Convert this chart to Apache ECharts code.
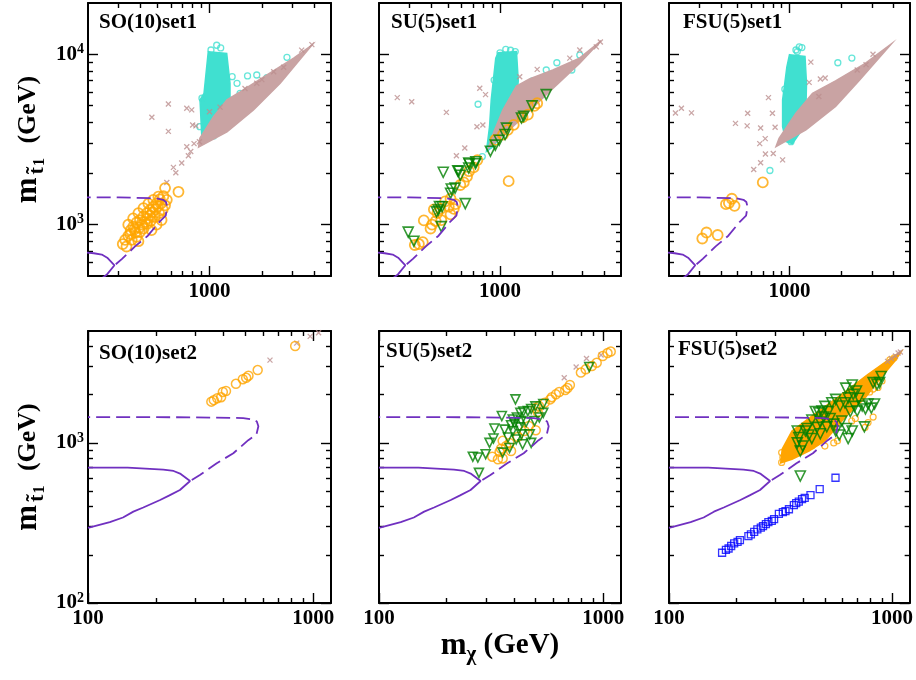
<!DOCTYPE html>
<html>
<head>
<meta charset="utf-8">
<script src="https://cdn.jsdelivr.net/npm/echarts@6/dist/echarts.min.js"></script>
<style>
  html, body { margin: 0; padding: 0; background: #fff; }
  #chart { width: 916px; height: 680px; }
</style>
</head>
<body>
<div id="chart"></div>
<script>
// tick values
const topXMajor = [1000];
const topXMinor = [300, 400, 500, 600, 700, 800, 900, 2000, 3000, 4000];
const topYMajor = [1000, 10000];
const topYMinor = [600, 700, 800, 900, 2000, 3000, 4000, 5000, 6000, 7000, 8000, 9000];
const botXMajor = [100, 1000];
const botXMinor = [200, 300, 400, 500, 600, 700, 800, 900];
const botYMajor = [100, 1000];
const botYMinor = [200, 300, 400, 500, 600, 700, 800, 900, 2000, 3000, 4000];
const topXLabels = [1000];
const botXLabels = [100, 1000];
const topYLabels = [1000, 10000];
const botYLabels = [100, 1000];

// exclusion contours (same in every panel)
const solidContour = [[100,700],[150,700],[216,680],[240,668],[258,640],[284,578],[256,508],[230,470],[209,440],[176,395],[159,372],[143,342],[125,320],[100,295]];
const dashedContour = [[289,586],[314,630],[373,746],[442,862],[515,1040],[560,1130],[571,1270],[562,1360],[541,1400],[489,1430],[300,1445],[100,1450]];

// SO(10) set1
const so10s1CyanCore = [[984,10360],[1256,10130],[1312,6760],[1312,5160],[1149,3760],[1075,3280],[902,3360],[882,5390],[930,5900],[964,8460]];
const so10s1Cyan = [[1100,11300],[1160,10900],[1020,10600],[905,5520],[880,3760],[1055,3320],[1375,5400],[1500,5900],[1655,7470],[1870,7560],[2140,7290],[2790,9600],[1350,7390],[1440,6760]];
const so10s1PinkCore = [[865,2850],[1260,3500],[1790,4720],[2550,6770],[3880,11300],[3050,9500],[2140,7560],[1500,6010],[1260,5400],[1055,4300],[880,3210]];
const so10s1Pink = [[466,4270],[580,5110],[580,3530],[620,2170],[640,2020],[568,1770],[692,2300],[740,4820],[790,4720],[800,3850],[835,3800],[756,2540],[780,2690],[875,3070],[740,2870],[815,2990],[1870,6770],[2340,7900],[2670,8400],[3390,10580],[3880,11400],[1600,6300],[2000,7100],[1150,4900],[1000,4600]];
const so10s1Orange = [[317,770],[327,815],[341,860],[352,930],[364,975],[381,1030],[398,1065],[417,1120],[436,1170],[455,1220],[475,1275],[496,1330],[518,1410],[543,1470],[555,1640],[663,1560],[357,815],[381,850],[398,905],[417,950],[436,1010],[459,1055],[485,1110],[513,1170],[538,1230],[555,1300],[568,1400],[364,1090],[390,1170],[417,1250],[445,1330],[475,1400],[508,1460],[341,1000],[464,930],[496,1000],[530,1065],[390,800],[333,745],[375,900],[395,960],[410,1000],[425,1040],[440,1090],[455,1130],[470,1180],[490,1230],[505,1280],[525,1330],[350,880],[370,940]];

// SU(5) set1
const su5s1CyanCore = [[975,10220],[1245,10380],[1275,6990],[1245,5400],[1090,3760],[912,2870],[835,2690],[870,3760],[890,5400],[920,7390],[945,9500]];
const su5s1Cyan = [[1000,10200],[1080,10700],[1150,10560],[1225,10380],[925,7060],[747,5090],[790,2510],[1540,6990],[1850,8090],[2130,8920],[2890,9900],[2600,8090]];
const su5s1PinkCore = [[855,2800],[1300,4090],[1850,5800],[2880,8840],[3830,12000],[2880,9500],[2020,8090],[1480,7160],[1245,6520],[1040,4720],[912,3420]];
const su5s1Pink = [[255,5570],[309,5270],[490,4560],[560,2540],[626,2820],[736,3760],[764,6320],[825,5800],[796,3850],[1300,7390],[1640,8160],[2890,10600],[3600,11050],[3800,11800],[2530,9500]];
const su5s1Orange = [[340,770],[358,790],[322,760],[363,1060],[397,950],[405,1000],[415,1230],[435,1170],[425,1050],[458,1065],[453,1240],[482,1370],[506,1275],[518,1150],[541,1240],[553,1320],[518,1420],[590,1710],[618,1770],[645,1915],[662,2060],[705,2170],[740,2395],[1122,1800],[940,3150],[1040,3380],[1200,3850],[1350,4270],[1450,4430],[1580,4980],[1640,5160],[1110,3600]];
const su5s1Green = [[295,905],[318,800],[470,2030],[578,2060],[590,1950],[660,2150],[660,2300],[722,2280],[523,1620],[550,1640],[518,1530],[447,1280],[440,1220],[463,1275],[458,975],[430,1190],[630,1330],[880,2700],[940,2930],[990,3130],[1070,3380],[1090,3690],[1330,4230],[1370,4330],[1530,4980],[1850,5800],[570,2070],[665,2270],[725,2340]];

// FSU(5) set1
const fsu5s1CyanCore = [[1000,9950],[1230,9720],[1255,6770],[1245,4720],[1140,3420],[1040,2990],[955,3070],[912,3760],[912,5400],[935,6520],[965,8400]];
const fsu5s1Cyan = [[1090,10600],[1140,11050],[1180,10950],[1110,10380],[940,6240],[1020,3070],[770,2080],[1907,8920],[2300,9500],[2160,6990],[1890,5900],[1480,5520],[1700,6010]];
const fsu5s1PinkCore = [[835,2870],[1245,3600],[1850,4950],[2530,6990],[3900,11500],[2750,8840],[1850,6990],[1360,5900],[1090,4510],[870,3210]];
const fsu5s1Pink = [[218,4520],[236,4820],[270,4530],[486,3930],[568,3800],[572,4510],[680,3690],[723,3200],[755,5570],[796,4510],[825,3730],[672,2990],[680,2310],[620,2110],[725,2600],[805,2620],[912,2400],[1330,9000],[1300,6840],[1510,7160],[1610,7260],[2470,8090],[2780,8700],[3050,10000],[1480,5660]];
const fsu5s1Orange = [[700,1770],[428,1320],[445,1340],[463,1420],[480,1290],[312,830],[330,900],[383,870]];

// SO(10) set2
const so10s2Orange = [[353,1810],[362,1850],[375,1900],[390,1930],[397,2080],[410,2110],[454,2340],[487,2500],[504,2550],[516,2630],[567,2850],[832,4030]];
const so10s2Pink = [[643,3290],[845,4200],[970,4630],[1057,4880]];

// SU(5) set2
const su5s2Orange = [[1080,3720],[1045,3640],[995,3490],[935,3170],[890,3020],[835,2880],[795,2750],[710,2300],[693,2200],[677,2140],[636,2080],[615,2010],[590,1930],[580,1870],[548,1780],[517,1700],[500,1650],[500,1200],[510,1560],[356,1030],[369,956],[350,920],[345,880],[356,800],[320,820],[339,790],[388,890],[382,1000],[416,1090],[446,1187],[466,1275]];
const su5s2Pink = [[670,2550],[757,2980],[842,3370],[978,3540]];
const su5s2Green = [[406,1870],[353,1472],[327,1230],[363,1210],[324,1065],[311,1000],[262,820],[276,810],[299,850],[279,650],[388,1290],[402,1320],[412,1440],[427,1540],[440,1570],[461,1580],[477,1630],[498,1690],[540,1750],[540,1540],[453,1350],[424,1250],[395,1187],[376,1080],[382,930],[356,870],[409,1050],[431,1130],[470,1130],[477,1000],[437,980],[494,1370],[519,1440],[866,2980],[395,1400],[431,1370]];

// FSU(5) set2
const fsu5s2OrangeCore = [[317,750],[322,915],[356,1187],[437,1472],[595,2010],[781,2680],[993,3400],[1100,3720],[1030,3250],[866,2436],[757,1910],[615,1440],[500,1030],[424,890],[356,790]];
const fsu5s2Orange = [[320,870],[324,810],[336,850],[320,755],[350,860],[369,890],[437,956],[500,956],[548,1000],[570,1030],[660,1370],[685,1420],[823,2170],[795,2080],[781,1340],[823,1450],[757,1250],[866,2220],[902,2436],[978,3300],[1023,3400]];
const fsu5s2Pink = [[955,3230],[993,3370],[1037,3490],[1065,3640],[1090,3700]];
const fsu5s2Green = [[388,621],[376,1187],[382,1080],[388,890],[376,1000],[409,1187],[424,1120],[437,1065],[461,1250],[477,1350],[485,1582],[500,1690],[519,1570],[528,1420],[548,1310],[559,1187],[580,1120],[595,1370],[585,1700],[615,1780],[636,1910],[670,2010],[693,2110],[710,1900],[680,1690],[650,1570],[625,1230],[636,1065],[663,1187],[698,1582],[735,1700],[760,1630],[781,1750],[808,1650],[835,1750],[823,2380],[857,2320],[894,2600],[880,2380],[752,1260],[620,2200],[663,2300],[559,1870],[537,1780],[470,1540],[453,1570],[494,1450],[510,1260],[437,1390],[416,1230],[398,956],[477,1140]];
const fsu5s2Blue = [[173,206],[180,215],[185,219],[190,227],[196,236],[203,241],[208,247],[227,262],[233,268],[241,278],[249,288],[258,296],[264,302],[272,311],[279,320],[289,326],[296,334],[311,360],[324,369],[333,375],[345,385],[363,409],[372,420],[382,430],[395,446],[406,453],[431,472],[474,514],[558,606]];

const FONT = '"Liberation Serif", "Times New Roman", serif';
const PURPLE = '#7030c0';
const ORANGE = '#ffa500';
const CYAN = '#40e0d0';
const PINK = '#bc8f8f';
const PINK_FILL = '#c9a3a3';
const GREEN = '#008000';
const BLUE = '#0000ff';

const grids = [
  { left: 88, top: 3, width: 243, height: 273 },
  { left: 379, top: 3, width: 242, height: 273 },
  { left: 669, top: 3, width: 241, height: 273 },
  { left: 88, top: 331, width: 243, height: 272 },
  { left: 379, top: 331, width: 242, height: 272 },
  { left: 669, top: 331, width: 241, height: 272 }
];

const titles = [
  { text: 'SO(10)set1', left: 99, top: 12 },
  { text: 'SU(5)set1', left: 391, top: 12 },
  { text: 'FSU(5)set1', left: 683, top: 12 },
  { text: 'SO(10)set2', left: 99, top: 343 },
  { text: 'SU(5)set2', left: 386, top: 341 },
  { text: 'FSU(5)set2', left: 678, top: 339 }
];

const tickLine = { color: '#000', width: 1.4 };

// four axes per side pair: main (with frame line + major ticks), minor ticks, mirror, mirror minor
function axisGroup(g, sides, range, major, minor, label, extra) {
  const common = {
    type: 'log', logBase: 10, gridIndex: g, min: range[0], max: range[1],
    splitLine: { show: false }, axisPointer: { show: false }
  };
  const frame = { show: true, onZero: false, lineStyle: { color: '#000', width: 2 } };
  return [
    Object.assign({}, common, {
      position: sides[0], axisLine: frame,
      axisTick: { show: true, inside: true, length: 10, customValues: major, lineStyle: tickLine },
      axisLabel: label || { show: false }
    }, extra || {}),
    Object.assign({}, common, {
      position: sides[0], axisLine: { show: false },
      axisTick: { show: true, inside: true, length: 5, customValues: minor, lineStyle: tickLine },
      axisLabel: { show: false }
    }),
    Object.assign({}, common, {
      position: sides[1], axisLine: frame,
      axisTick: { show: true, inside: true, length: 10, customValues: major, lineStyle: tickLine },
      axisLabel: { show: false }
    }),
    Object.assign({}, common, {
      position: sides[1], axisLine: { show: false },
      axisTick: { show: true, inside: true, length: 5, customValues: minor, lineStyle: tickLine },
      axisLabel: { show: false }
    })
  ];
}

const xLabel = vals => ({
  show: true, customValues: vals, margin: 5, color: '#000',
  fontFamily: FONT, fontWeight: 'bold', fontSize: 21,
  formatter: v => String(Math.round(v))
});
const yLabel = vals => ({
  show: true, customValues: vals, margin: 4, color: '#000',
  formatter: v => '{b|10}{e|' + Math.round(Math.log10(v)) + '}',
  rich: {
    b: { fontFamily: FONT, fontWeight: 'bold', fontSize: 21, color: '#000', lineHeight: 24 },
    e: { fontFamily: FONT, fontWeight: 'bold', fontSize: 14, color: '#000', verticalAlign: 'top', lineHeight: 14 }
  }
});

const yName = {
  name: '{m|m}{t|t\u0303}{o|1}{g| (GeV)}',
  nameLocation: 'middle', nameGap: 40, nameRotate: 90,
  nameTextStyle: {
    rich: {
      m: { fontFamily: FONT, fontWeight: 'bold', fontSize: 31, color: '#000', lineHeight: 40 },
      t: { fontFamily: FONT, fontWeight: 'bold', fontSize: 22, color: '#000', verticalAlign: 'bottom', padding: [0, 1, 0, 3] },
      o: { fontFamily: FONT, fontWeight: 'bold', fontSize: 16, color: '#000', verticalAlign: 'bottom', padding: [0, 8, 0, 0] },
      g: { fontFamily: FONT, fontWeight: 'bold', fontSize: 26, color: '#000' }
    }
  }
};
const xName = {
  name: '{m|m}{s|\u03c7}{g| (GeV)}',
  nameLocation: 'middle', nameGap: 24,
  nameTextStyle: {
    rich: {
      m: { fontFamily: FONT, fontWeight: 'bold', fontSize: 31, color: '#000', lineHeight: 38 },
      s: { fontFamily: FONT, fontWeight: 'bold', fontSize: 21, color: '#000', verticalAlign: 'bottom' },
      g: { fontFamily: FONT, fontWeight: 'bold', fontSize: 29, color: '#000' }
    }
  }
};

const xAxis = [];
const yAxis = [];
for (let g = 0; g < 6; g++) {
  const top = g < 3;
  xAxis.push(...axisGroup(g, ['bottom', 'top'],
    top ? [200, 5000] : [100, 1200],
    top ? topXMajor : botXMajor, top ? topXMinor : botXMinor,
    xLabel(top ? topXLabels : botXLabels),
    g === 4 ? xName : null));
  yAxis.push(...axisGroup(g, ['left', 'right'],
    top ? [500, 20000] : [100, 5000],
    top ? topYMajor : botYMajor, top ? topYMinor : botYMinor,
    g % 3 === 0 ? yLabel(top ? topYLabels : botYLabels) : null,
    g % 3 === 0 ? yName : null));
}

const hollow = (color, size, width) => ({
  symbol: 'circle', symbolSize: size,
  itemStyle: { color: 'rgba(0,0,0,0)', borderColor: color, borderWidth: width }
});
const cross = {
  symbol: 'path://M0,0L10,10M10,0L0,10', symbolSize: 5,
  itemStyle: { color: 'rgba(0,0,0,0)', borderColor: PINK, borderWidth: 1.3 }
};
const triDown = size => ({
  symbol: 'triangle', symbolRotate: 180, symbolSize: size,
  itemStyle: { color: 'rgba(0,0,0,0)', borderColor: GREEN, borderWidth: 1.6 }
});
const square = {
  symbol: 'rect', symbolSize: 7,
  itemStyle: { color: 'rgba(0,0,0,0)', borderColor: BLUE, borderWidth: 1.3 }
};

function scatter(data, g, style, z) {
  return Object.assign({
    type: 'scatter', xAxisIndex: g * 4, yAxisIndex: g * 4, data: data,
    silent: true, z: z || 2
  }, style);
}

// dense regions drawn as a filled outline
function blob(points, g, color, z) {
  return {
    type: 'custom', xAxisIndex: g * 4, yAxisIndex: g * 4, data: [points[0]],
    silent: true, z: z || 2,
    renderItem: (params, api) => ({
      type: 'polygon',
      shape: { points: points.map(p => api.coord(p)) },
      style: { fill: color, stroke: color, lineWidth: 1.5 }
    })
  };
}

function contours(g) {
  const base = { type: 'line', xAxisIndex: g * 4, yAxisIndex: g * 4, showSymbol: false, symbol: 'none', silent: true, z: 6 };
  return [
    Object.assign({}, base, { data: solidContour, lineStyle: { color: PURPLE, width: 1.8 } }),
    Object.assign({}, base, { data: dashedContour, lineStyle: { color: PURPLE, width: 1.8, type: [14, 6] } })
  ];
}

const series = [
  // SO(10)set1
  blob(so10s1CyanCore, 0, CYAN, 2),
  scatter(so10s1Cyan, 0, hollow(CYAN, 6, 1.3), 2),
  blob(so10s1PinkCore, 0, PINK_FILL, 3),
  scatter(so10s1Pink, 0, cross, 3),
  scatter(so10s1Orange, 0, hollow(ORANGE, 10, 1.8), 4),
  ...contours(0),
  // SU(5)set1
  blob(su5s1CyanCore, 1, CYAN, 2),
  scatter(su5s1Cyan, 1, hollow(CYAN, 6, 1.3), 2),
  blob(su5s1PinkCore, 1, PINK_FILL, 3),
  scatter(su5s1Pink, 1, cross, 3),
  scatter(su5s1Orange, 1, hollow(ORANGE, 10, 1.8), 4),
  scatter(su5s1Green, 1, triDown(10), 5),
  ...contours(1),
  // FSU(5)set1
  blob(fsu5s1CyanCore, 2, CYAN, 2),
  scatter(fsu5s1Cyan, 2, hollow(CYAN, 6, 1.3), 2),
  blob(fsu5s1PinkCore, 2, PINK_FILL, 3),
  scatter(fsu5s1Pink, 2, cross, 3),
  scatter(fsu5s1Orange, 2, hollow(ORANGE, 10, 1.8), 4),
  ...contours(2),
  // SO(10)set2
  scatter(so10s2Pink, 3, cross, 3),
  scatter(so10s2Orange, 3, hollow(ORANGE, 9, 1.5), 4),
  ...contours(3),
  // SU(5)set2
  scatter(su5s2Pink, 4, cross, 3),
  scatter(su5s2Orange, 4, hollow(ORANGE, 9, 1.5), 4),
  scatter(su5s2Green, 4, triDown(9), 5),
  ...contours(4),
  // FSU(5)set2
  blob(fsu5s2OrangeCore, 5, ORANGE, 2),
  scatter(fsu5s2Orange, 5, hollow(ORANGE, 6, 1.2), 3),
  scatter(fsu5s2Pink, 5, cross, 3),
  scatter(fsu5s2Green, 5, triDown(10), 5),
  scatter(fsu5s2Blue, 5, square, 5),
  ...contours(5)
];

const chart = echarts.init(document.getElementById('chart'));
chart.setOption({
  animation: false,
  backgroundColor: '#fff',
  title: titles.map(t => ({
    text: t.text, left: t.left, top: t.top, padding: 0,
    textStyle: { fontFamily: FONT, fontWeight: 'bold', fontSize: 21, color: '#000' }
  })),
  grid: grids,
  xAxis: xAxis,
  yAxis: yAxis,
  series: series
});
</script>
</body>
</html>
